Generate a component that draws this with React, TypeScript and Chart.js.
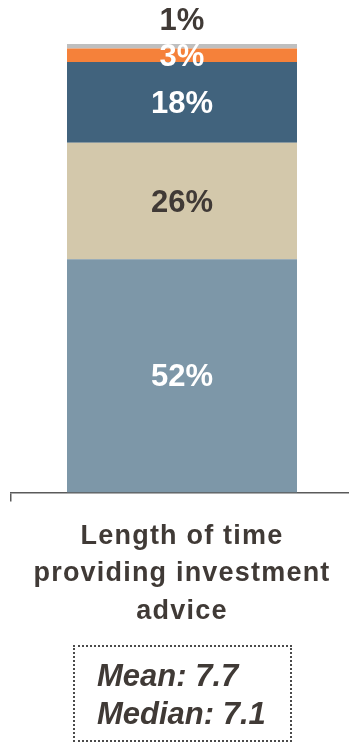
import React, { useEffect, useRef } from "react";
import { Chart, registerables } from "chart.js";

Chart.register(...registerables);

// Share of respondents by length of time providing investment advice
const categories: string[][] = [["Length of time", "providing investment", "advice"]];
const segmentValues: number[] = [52, 26, 18, 3, 1];
const segmentColors: string[] = ["#7D97A8", "#D3C8AB", "#41637D", "#F5813A", "#BFBFBF"];
const labelColors: string[] = ["#FFFFFF", "#403A36", "#FFFFFF", "#FFFFFF", "#403A36"];
const summaryLines: string[] = ["Mean: 7.7", "Median: 7.1"];

const FONT = '"Liberation Sans", Arial, Helvetica, sans-serif';
const TEXT_DARK = "#403A36";

// Prints each segment's percentage in its middle; the thinnest top slice gets its label above the bar.
const segmentLabels = {
  id: "segmentLabels",
  beforeDraw(chart: any) {
    chart.ctx.letterSpacing = "1.2px";
  },
  beforeDatasetsDraw(chart: any) {
    chart.ctx.letterSpacing = "0px";
  },
  afterDatasetsDraw(chart: any) {
    const ctx = chart.ctx as CanvasRenderingContext2D;
    ctx.save();
    ctx.font = `bold 31px ${FONT}`;
    ctx.textAlign = "center";
    ctx.textBaseline = "middle";
    chart.data.datasets.forEach((ds: any, i: number) => {
      const el = chart.getDatasetMeta(i).data[0] as any;
      if (!el) return;
      const v = ds.data[0] as number;
      const last = i === chart.data.datasets.length - 1;
      const y = last ? el.y - 23 : (el.y + el.base) / 2 + 2;
      ctx.fillStyle = labelColors[i];
      ctx.fillText(`${v}%`, el.x, y);
    });
    ctx.restore();
  },
};

export default function App() {
  const canvasRef = useRef<HTMLCanvasElement | null>(null);

  useEffect(() => {
    if (!canvasRef.current) return;
    const chart = new Chart(canvasRef.current, {
      type: "bar",
      data: {
        labels: categories as any,
        datasets: segmentValues.map((v, i) => ({
          label: `${v}%`,
          data: [v],
          backgroundColor: segmentColors[i],
          borderWidth: 0,
          barPercentage: 0.6725,
          categoryPercentage: 1,
        })),
      },
      options: {
        animation: false,
        responsive: false,
        layout: { padding: { top: 44, left: 11, right: 0, bottom: 0 } },
        plugins: { legend: { display: false }, tooltip: { enabled: false } },
        scales: {
          x: {
            stacked: true,
            offset: true,
            border: { display: true, color: "#5A5A5A", width: 1.5 },
            grid: {
              display: true,
              offset: true,
              drawOnChartArea: false,
              drawTicks: true,
              tickLength: 9,
              color: "#5A5A5A",
              lineWidth: 1.5,
            },
            ticks: {
              color: TEXT_DARK,
              padding: 16,
              maxRotation: 0,
              font: { family: FONT, size: 27, weight: "bold", lineHeight: "37.5px" as any },
            },
          },
          y: {
            stacked: true,
            display: false,
            min: 0,
            max: 100,
          },
        },
      },
      plugins: [segmentLabels],
    });
    return () => chart.destroy();
  }, []);

  return (
    <div
      style={{
        position: "fixed",
        left: 0,
        top: 0,
        width: 349,
        height: 744,
        overflow: "hidden",
        background: "#FFFFFF",
      }}
    >
      <canvas
        ref={canvasRef}
        width={353}
        height={646}
        style={{ position: "absolute", left: 0, top: 0, width: 353, height: 646 }}
      />
      <div
        style={{
          position: "absolute",
          left: 73,
          top: 645,
          width: 219,
          height: 97,
          boxSizing: "border-box",
          border: "2px dotted #4A4A4A",
          paddingTop: 10,
          paddingLeft: 22,
          fontFamily: FONT,
          fontWeight: "bold",
          fontStyle: "italic",
          fontSize: 31,
          lineHeight: "38px",
          color: TEXT_DARK,
          whiteSpace: "nowrap",
        }}
      >
        {summaryLines.map((t) => (
          <div key={t}>{t}</div>
        ))}
      </div>
    </div>
  );
}
